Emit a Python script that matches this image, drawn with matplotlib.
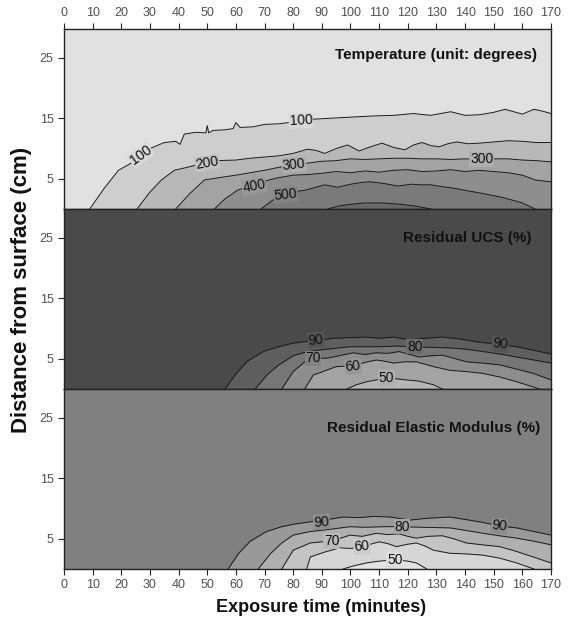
import matplotlib
matplotlib.use("Agg")
import matplotlib.pyplot as plt
from matplotlib.colors import to_rgb

plt.rcParams['font.family'] = ['Liberation Sans', 'DejaVu Sans']

# Exposure time axis (minutes) and depth axis (cm)
time_ticks = list(range(0, 171, 10))
depth_ticks = [5, 15, 25]

# ---- Temperature contours (degrees): depth of each isotherm vs time ----
temp_levels = [100, 200, 300, 400, 500, 600]
temp_100_t = [9, 14, 19, 22, 26, 30, 35, 39, 40.5, 42, 46, 49.5, 50, 50.5, 52, 56, 59, 60,
              61.5, 66, 70, 75, 80, 85, 92, 100, 108, 115, 122, 128, 135, 140, 145, 150,
              154, 157, 160, 164, 167, 170]
temp_100_d = [0, 3.4, 6.4, 7.2, 8.3, 10.0, 11.0, 11.2, 10.7, 12.4, 12.7, 12.6, 13.8, 12.6,
              13.0, 13.1, 13.3, 14.3, 13.5, 13.6, 14.0, 14.1, 14.4, 14.8, 15.0, 15.2, 15.4,
              15.5, 15.8, 15.5, 16.1, 15.5, 15.6, 16.0, 16.5, 16.1, 15.7, 16.5, 16.2, 15.8]
temp_200_t = [25.5, 30, 34, 38.5, 43, 48, 53, 60, 65, 70, 75, 80, 85, 88, 91, 95, 99, 103,
              107, 111, 115, 119, 122, 125, 128, 131, 134, 137, 141, 145, 150, 155, 160,
              165, 170]
temp_200_d = [0, 2.8, 4.8, 6.4, 6.9, 7.5, 8.0, 8.1, 8.4, 8.6, 8.8, 9.2, 9.9, 9.7, 9.2, 10.0,
              10.6, 9.6, 10.3, 10.9, 10.2, 9.8, 10.6, 11.0, 10.5, 10.3, 10.8, 11.1, 10.8,
              10.9, 11.1, 11.3, 11.2, 11.0, 11.0]
temp_300_t = [39, 44, 49, 53, 60, 65, 70, 75, 80, 85, 90, 95, 100, 105, 110, 115, 120, 125,
              130, 135, 140, 145, 150, 155, 160, 165, 170]
temp_300_d = [0, 2.6, 4.8, 5.1, 5.6, 6.0, 6.4, 6.9, 7.3, 7.6, 7.9, 8.0, 8.3, 8.2, 8.3, 8.4,
              8.4, 8.3, 8.3, 8.2, 8.3, 8.2, 8.3, 8.3, 8.1, 8.0, 7.8]
temp_400_t = [52.5, 56, 60.5, 66, 70, 74, 80, 85, 90, 95, 100, 105, 110, 115, 120, 125, 130,
              135, 140, 145, 150, 155, 160, 164.5, 170]
temp_400_d = [0, 1.6, 3.1, 4.0, 4.6, 5.1, 5.6, 5.7, 5.9, 6.2, 6.0, 6.3, 6.1, 6.4, 6.5, 6.2,
              6.3, 6.5, 6.2, 6.4, 6.2, 6.0, 5.6, 4.8, 4.5]
temp_500_t = [68.7, 73, 77, 81, 84, 88, 91, 95.6, 100, 104, 107, 112, 116.6, 121, 125, 128,
              132, 136.5, 141, 145.8, 150, 154, 157, 160, 164.4]
temp_500_d = [0, 1.5, 2.3, 2.9, 3.1, 3.6, 4.0, 3.6, 4.1, 4.4, 4.5, 4.2, 3.8, 4.1, 4.0, 4.0,
              3.7, 3.4, 3.0, 2.6, 2.2, 1.8, 1.4, 1.0, 0]
temp_600_t = [92, 96, 100.4, 105, 111, 117, 122.5, 128]
temp_600_d = [0, 0.5, 0.8, 1.0, 1.0, 0.8, 0.5, 0]

# ---- Residual UCS contours (%) ----
ucs_levels = [90, 80, 70, 60, 50]
ucs_90_t = [56.2, 60, 64, 69.5, 75, 80, 85, 90, 94, 100, 105.6, 110, 115, 120.8, 126, 132,
            138, 144, 150, 158, 164, 170]
ucs_90_d = [0, 2.5, 4.6, 6.2, 7.0, 7.6, 7.9, 8.1, 8.4, 8.5, 8.6, 8.4, 8.6, 8.1, 8.4, 8.6,
            8.3, 7.8, 7.5, 7.0, 6.4, 5.8]
ucs_80_t = [66.7, 71, 75, 77.7, 80, 83.5, 88, 94, 99.8, 105, 110, 116, 122.5, 128, 134.7,
            140, 146.3, 152, 158, 164, 170]
ucs_80_d = [0, 2.4, 4.0, 4.8, 5.5, 6.0, 6.4, 6.7, 7.0, 7.0, 7.0, 7.1, 7.0, 6.9, 6.8, 6.6,
            6.2, 5.8, 5.3, 4.8, 4.3]
ucs_70_t = [76, 80, 84, 87, 91.7, 94, 97, 101, 105, 109, 113, 117, 120, 124, 128, 132, 136,
            140.5, 146, 152, 158, 163.7, 170]
ucs_70_d = [0, 2.9, 4.5, 5.1, 5.1, 5.3, 5.6, 6.0, 5.7, 6.0, 5.9, 6.2, 5.8, 5.3, 5.5, 5.6,
            5.1, 4.5, 4.3, 4.0, 3.3, 2.6, 1.5]
ucs_60_t = [84, 87, 91, 95, 101.6, 105, 109, 112, 115, 119, 123, 126, 129, 134.7, 140, 146,
            152, 158, 162, 166]
ucs_60_d = [0, 2.3, 3.0, 3.7, 3.9, 4.4, 4.8, 4.6, 4.3, 4.5, 4.5, 4.1, 3.7, 3.1, 2.9, 2.6,
            2.0, 1.2, 0.6, 0]
ucs_50_t = [98.7, 102, 105.6, 109, 112.6, 116, 119.6, 124, 129, 132]
ucs_50_d = [0, 0.7, 1.2, 1.5, 1.8, 1.7, 1.5, 1.3, 0.7, 0]

# ---- Residual elastic modulus contours (%) ----
mod_levels = [90, 80, 70, 60, 50]
mod_90_t = [57.3, 61, 65, 70.7, 76, 80, 85.9, 91, 97.4, 103, 108, 113.8, 120.8, 127, 134.7,
            140, 146.3, 152, 158, 164, 170]
mod_90_d = [0, 2.6, 4.6, 6.2, 7.0, 7.4, 7.8, 8.1, 8.6, 8.5, 8.7, 8.6, 8.1, 8.4, 8.6, 8.2,
            7.7, 7.1, 6.8, 6.2, 5.6]
mod_80_t = [67.8, 72, 76, 80, 85.9, 90, 95, 99.8, 105, 112, 118, 125, 134.7, 140, 146.3,
            152, 158, 164, 170]
mod_80_d = [0, 2.5, 4.3, 5.6, 6.2, 6.4, 6.7, 7.0, 6.9, 7.0, 7.0, 6.9, 6.8, 6.4, 5.9, 5.5,
            5.1, 4.6, 4.0]
mod_70_t = [76, 80, 85.9, 90, 93.4, 96, 99.8, 104, 109, 113, 117, 120, 123, 127, 132, 136,
            140.5, 146, 152, 158, 163.7, 170]
mod_70_d = [0, 3.1, 4.3, 4.5, 4.6, 5.0, 5.6, 5.4, 5.9, 5.7, 5.8, 5.4, 5.1, 5.4, 5.5, 5.0,
            4.3, 4.0, 3.7, 2.9, 2.0, 1.0]
mod_60_t = [84.7, 86, 91, 96.3, 100, 104, 107, 110, 113, 116, 120, 123, 126, 129, 134.7, 140,
            146, 152, 158, 164]
mod_60_d = [0, 2.0, 2.8, 3.5, 3.4, 3.7, 4.1, 4.5, 4.2, 3.7, 4.1, 4.3, 3.8, 3.1, 2.6, 2.5,
            2.3, 1.8, 1.0, 0]
mod_50_t = [97.4, 101, 105.6, 110, 115.5, 120, 123, 126.6]
mod_50_d = [0, 0.5, 1.0, 1.3, 1.5, 1.3, 1.0, 0]

# Contour labels: (text, time, depth, rotation)
temp_labels = [("100", 26.8, 8.9, 36), ("100", 82.7, 14.6, 3), ("200", 50, 7.6, 10),
               ("300", 80.3, 7.3, 6), ("300", 145.8, 8.2, 0), ("400", 66.3, 3.8, 10),
               ("500", 77.4, 2.3, 6)]
ucs_labels = [("90", 88, 8.1, 5), ("90", 152.2, 7.4, -6), ("80", 122.5, 7.0, 0),
              ("70", 86.9, 5.1, 0), ("60", 100.9, 3.7, 5), ("50", 112.6, 1.8, 0)]
mod_labels = [("90", 89.9, 7.8, 5), ("90", 152, 7.1, -6), ("80", 118, 7.0, 0),
              ("70", 93.4, 4.6, 0), ("60", 104, 3.7, 5), ("50", 115.5, 1.5, 0)]


def mix(c1, c2):
    a, b = to_rgb(c1), to_rgb(c2)
    return tuple((x + y) / 2 for x, y in zip(a, b))


# Draw one panel: background fill, nested filled bands and their contour lines
def draw_panel(ax, background, curves, colors, labels, level_index, title, title_pos):
    ax.set_facecolor(background)
    for (t, d), c in zip(curves, colors):
        ax.fill_between(t, 0, d, color=c, lw=0)
        ax.plot(t, d, color='#1a1a1a', lw=0.7)
    band = [background] + colors
    for text, t, d, rot in labels:
        i = level_index[text]
        ax.text(t, d, text, fontsize=10, ha='center', va='center', rotation=rot,
                rotation_mode='anchor', color='#111111',
                bbox=dict(boxstyle='square,pad=0.05', fc=mix(band[i], band[i + 1]), ec='none'))
    ax.text(title_pos[0], title_pos[1], title, fontsize=11, fontweight='bold',
            ha='right', va='center', color='#111111')
    ax.set_xlim(0, 170)
    ax.set_ylim(0, 29.8)
    ax.set_yticks(depth_ticks)
    ax.set_xticks(time_ticks)
    ax.tick_params(axis='both', direction='out', length=4, width=0.8, colors='#222222',
                   labelsize=9, labelcolor='#505050')
    ax.tick_params(bottom=False, labelbottom=False, top=False, labeltop=False)
    for s in ax.spines.values():
        s.set_linewidth(1.0)
        s.set_color('#222222')


def main():
    fig = plt.figure(figsize=(5.75, 6.31), dpi=100)
    left, width, height = 0.1113, 0.847, 0.2853
    ax_temp = fig.add_axes([left, 0.6688, width, height])
    ax_ucs = fig.add_axes([left, 0.3835, width, height])
    ax_mod = fig.add_axes([left, 0.0983, width, height])

    temp_curves = [(temp_100_t, temp_100_d), (temp_200_t, temp_200_d), (temp_300_t, temp_300_d),
                   (temp_400_t, temp_400_d), (temp_500_t, temp_500_d), (temp_600_t, temp_600_d)]
    temp_colors = ['#cecece', '#b8b8b8', '#a3a3a3', '#8e8e8e', '#7a7a7a', '#686868']
    draw_panel(ax_temp, '#e1e1e1', temp_curves, temp_colors, temp_labels,
               {str(v): i for i, v in enumerate(temp_levels)},
               'Temperature (unit: degrees)', (165.1, 25.5))

    ucs_curves = [(ucs_90_t, ucs_90_d), (ucs_80_t, ucs_80_d), (ucs_70_t, ucs_70_d),
                  (ucs_60_t, ucs_60_d), (ucs_50_t, ucs_50_d)]
    ucs_colors = ['#5f5f5f', '#767676', '#8d8d8d', '#a3a3a3', '#b6b6b6']
    draw_panel(ax_ucs, '#4a4a4a', ucs_curves, ucs_colors, ucs_labels,
               {str(v): i for i, v in enumerate(ucs_levels)},
               'Residual UCS (%)', (163.3, 25.0))

    mod_curves = [(mod_90_t, mod_90_d), (mod_80_t, mod_80_d), (mod_70_t, mod_70_d),
                  (mod_60_t, mod_60_d), (mod_50_t, mod_50_d)]
    mod_colors = ['#999999', '#afafaf', '#c4c4c4', '#d6d6d6', '#e3e3e3']
    draw_panel(ax_mod, '#808080', mod_curves, mod_colors, mod_labels,
               {str(v): i for i, v in enumerate(mod_levels)},
               'Residual Elastic Modulus (%)', (166.1, 23.3))

    # time axis on top of the first panel and under the last one
    ax_temp.tick_params(top=True, labeltop=True)
    ax_mod.tick_params(bottom=True, labelbottom=True)

    fig.text(0.038, 0.54, 'Distance from surface (cm)', rotation=90, ha='center', va='center',
             fontsize=16, fontweight='bold', color='#111111')
    fig.text(0.558, 0.038, 'Exposure time (minutes)', ha='center', va='center',
             fontsize=13, fontweight='bold', color='#111111')

    fig.savefig('out.png', dpi=100)


if __name__ == "__main__":
    main()
